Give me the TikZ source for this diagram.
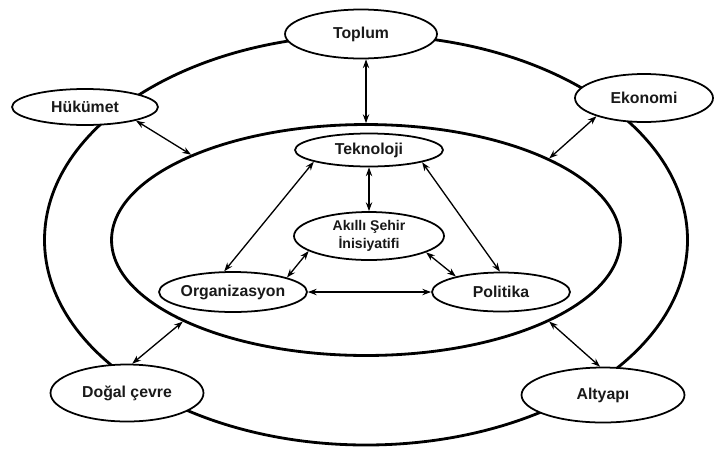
\documentclass[tikz,border=0pt]{standalone}
\usepackage{fontspec}
\setmainfont{Liberation Sans}
\usetikzlibrary{shapes.geometric,arrows.meta}
\begin{document}
\begin{tikzpicture}[x=0.02cm,y=-0.02cm,
  ring/.style={line width=1.6pt},
  actor/.style={ellipse,draw,line width=1pt,fill=white,inner sep=0pt,
    font=\bfseries\fontsize{9}{10}\selectfont,text=black!90},
  link/.style={line width=0.75pt,{Stealth[length=5pt,width=3.6pt]}-{Stealth[length=5pt,width=3.6pt]}}]
\useasboundingbox (0,0) rectangle (715,450);

% outer ring
\draw[ring] (366,240) ellipse [x radius=321.5, y radius=205];
% inner ring
\node[ellipse,draw,ring,minimum width=10.18cm,minimum height=4.62cm,inner sep=0pt] (inner) at (366,240) {};

% outer actors
\node[actor,minimum width=3.04cm,minimum height=0.98cm] (toplum)  at (361,34)  {Toplum};
\node[actor,minimum width=2.92cm,minimum height=0.72cm] (hukumet) at (85,107)  {Hükümet};
\node[actor,minimum width=2.76cm,minimum height=0.96cm] (ekonomi) at (644,98)  {Ekonomi};
\node[actor,minimum width=3.06cm,minimum height=1.14cm] (dogal)   at (127,393) {Doğal çevre};
\node[actor,minimum width=3.26cm,minimum height=1.10cm] (altyapi) at (603,395) {Altyapı};

% inner actors
\node[actor,minimum width=2.96cm,minimum height=0.66cm] (tekno) at (369,150) {Teknoloji};
\node[actor,minimum width=3.00cm,minimum height=0.96cm,align=center,
  font=\bfseries\fontsize{8}{10}\selectfont] (akilli) at (369,236) {Akıllı Şehir\\İnisiyatifi};
\node[actor,minimum width=2.96cm,minimum height=0.80cm] (org) at (233,292) {Organizasyon};
\node[actor,minimum width=2.76cm,minimum height=0.78cm] (pol) at (501,292) {Politika};

% links between the outer actors and the inner ring
\coordinate (topfoot) at (toplum.south -| inner.north);
\draw[link] (topfoot) -- (inner.north);
\draw[link] (hukumet.-15) -- (inner.154.5);
\draw[link] (ekonomi.201) -- (inner.24.6);
\draw[link] (dogal.80) -- (inner.204);
\draw[link] (altyapi.96) -- (inner.-24);

% links inside the inner ring
\draw[link] (tekno.south) -- (akilli.north);
\draw[link] (tekno.192) -- (org.113);
\draw[link] (tekno.-13) -- (pol.93);
\draw[link] (akilli.194.5) -- (org.15.5);
\draw[link] (akilli.-16.5) -- (pol.161.6);
\draw[link] (org.east) -- (pol.west);
\end{tikzpicture}
\end{document}
